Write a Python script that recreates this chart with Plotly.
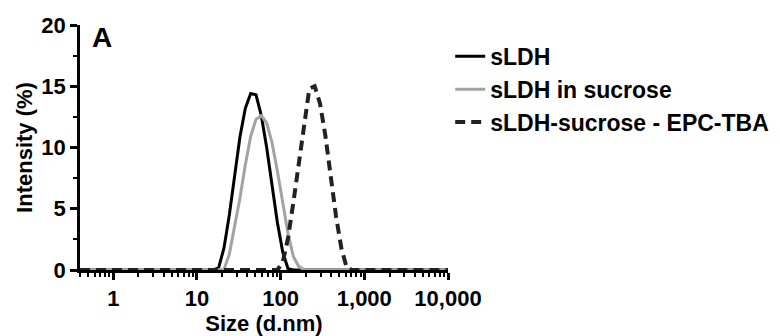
import plotly.graph_objects as go

# DLS size bins (d.nm)
size_nm = [0.4, 0.4632, 0.5365, 0.6213, 0.7195, 0.8332, 0.9649, 1.117, 1.294, 1.499,
           1.736, 2.01, 2.328, 2.696, 3.122, 3.615, 4.187, 4.849, 5.615, 6.503,
           7.531, 8.721, 10.1, 11.7, 13.54, 15.69, 18.17, 21.04, 24.36, 28.21,
           32.67, 37.84, 43.82, 50.75, 58.77, 68.06, 78.82, 91.28, 105.7, 122.4,
           141.8, 164.2, 190.1, 220.2, 255.0, 295.3, 342.0, 396.1, 458.7, 531.2,
           615.1, 712.4, 825.0, 955.4, 1106, 1281, 1484, 1718, 1990, 2305,
           2669, 3091, 3580, 4145, 4801, 5560, 6439, 7456, 8635, 10000]

sldh = [0, 0, 0, 0, 0, 0, 0, 0, 0, 0,
        0, 0, 0, 0, 0, 0, 0, 0, 0, 0,
        0, 0, 0, 0, 0, 0, 0.2, 1.8, 4.5, 7.8,
        10.9, 13.2, 14.4, 14.3, 12.6, 10.0, 6.9, 3.9, 1.5, 0.1,
        0, 0, 0, 0, 0, 0, 0, 0, 0, 0,
        0, 0, 0, 0, 0, 0, 0, 0, 0, 0,
        0, 0, 0, 0, 0, 0, 0, 0, 0, 0]

sldh_sucrose = [0, 0, 0, 0, 0, 0, 0, 0, 0, 0,
                0, 0, 0, 0, 0, 0, 0, 0, 0, 0,
                0, 0, 0, 0, 0, 0, 0, 0.05, 1.3, 3.5,
                5.9, 8.6, 10.9, 12.3, 12.6, 12.0, 10.4, 8.1, 5.5, 3.0,
                1.1, 0.3, 0.02, 0, 0, 0, 0, 0, 0, 0,
                0, 0, 0, 0, 0, 0, 0, 0, 0, 0,
                0, 0, 0, 0, 0, 0, 0, 0, 0, 0]

sldh_epc_tba = [0, 0, 0, 0, 0, 0, 0, 0, 0, 0,
                0, 0, 0, 0, 0, 0, 0, 0, 0, 0,
                0, 0, 0, 0, 0, 0, 0, 0, 0, 0,
                0, 0, 0, 0, 0, 0, 0, 0, 0.6, 2.6,
                5.5, 8.6, 11.7, 14.8, 15.0, 13.6, 11.0, 7.6, 4.4, 1.8,
                0.2, 0, 0, 0, 0, 0, 0, 0, 0, 0,
                0, 0, 0, 0, 0, 0, 0, 0, 0, 0]

series_names = ["sLDH", "sLDH in sucrose", "sLDH-sucrose - EPC-TBA"]

x_tickvals = [1, 10, 100, 1000, 10000]
x_ticktext = ["1", "10", "100", "1,000", "10,000"]
x_minor = [0.4, 0.5, 0.6, 0.7, 0.8, 0.9,
           2, 3, 4, 5, 6, 7, 8, 9,
           20, 30, 40, 50, 60, 70, 80, 90,
           200, 300, 400, 500, 600, 700, 800, 900,
           2000, 3000, 4000, 5000, 6000, 7000, 8000, 9000]
y_tickvals = [0, 5, 10, 15, 20]

FONT = "Liberation Sans, Arial, sans-serif"

fig = go.Figure()
fig.add_trace(go.Scatter(x=size_nm, y=sldh, mode="lines", name=series_names[0],
                         line=dict(color="#000000", width=3)))
fig.add_trace(go.Scatter(x=size_nm, y=sldh_sucrose, mode="lines", name=series_names[1],
                         line=dict(color="#a3a3a3", width=3)))
fig.add_trace(go.Scatter(x=size_nm, y=sldh_epc_tba, mode="lines", name=series_names[2],
                         line=dict(color="#222222", width=4, dash="10px,6px")))

fig.update_layout(
    width=772, height=328,
    margin=dict(l=72, r=332, t=17, b=66, autoexpand=False),
    paper_bgcolor="white", plot_bgcolor="white",
    font=dict(family=FONT, size=22, color="black", weight="bold"),
    showlegend=True,
    legend=dict(x=1.006, xanchor="left", y=0.96, yanchor="top",
                font=dict(family=FONT, size=23, color="black", weight="bold"),
                bgcolor="rgba(0,0,0,0)", tracegroupgap=0, itemwidth=30),
    annotations=[dict(text="A", x=0.06, y=0.948, xref="paper", yref="paper",
                      xanchor="center", yanchor="middle", showarrow=False,
                      font=dict(family=FONT, size=28, color="black", weight="bold"))],
)

fig.update_xaxes(
    type="log", range=[-0.39794, 4.0],
    tickvals=x_tickvals, ticktext=x_ticktext,
    ticks="outside", ticklen=7, tickwidth=2.5, tickcolor="black",
    minor=dict(tickvals=x_minor, ticks="outside", ticklen=4, tickwidth=2, tickcolor="black"),
    showline=True, linewidth=2.5, linecolor="black",
    showgrid=False, zeroline=False,
    tickfont=dict(family=FONT, size=22, color="black", weight="bold"),
    title=dict(text="Size (d.nm)", standoff=9,
               font=dict(family=FONT, size=22, color="black", weight="bold")),
)
fig.update_yaxes(
    range=[0, 20], tickvals=y_tickvals,
    ticks="outside", ticklen=7, tickwidth=2.5, tickcolor="black",
    minor=dict(dtick=2.5, tick0=0, ticks="outside", ticklen=4, tickwidth=2, tickcolor="black"),
    showline=True, linewidth=2.5, linecolor="black",
    showgrid=False, zeroline=False,
    tickfont=dict(family=FONT, size=22, color="black", weight="bold"),
    title=dict(text="Intensity (%)", standoff=3,
               font=dict(family=FONT, size=22, color="black", weight="bold")),
)

fig.write_html("out.html")
